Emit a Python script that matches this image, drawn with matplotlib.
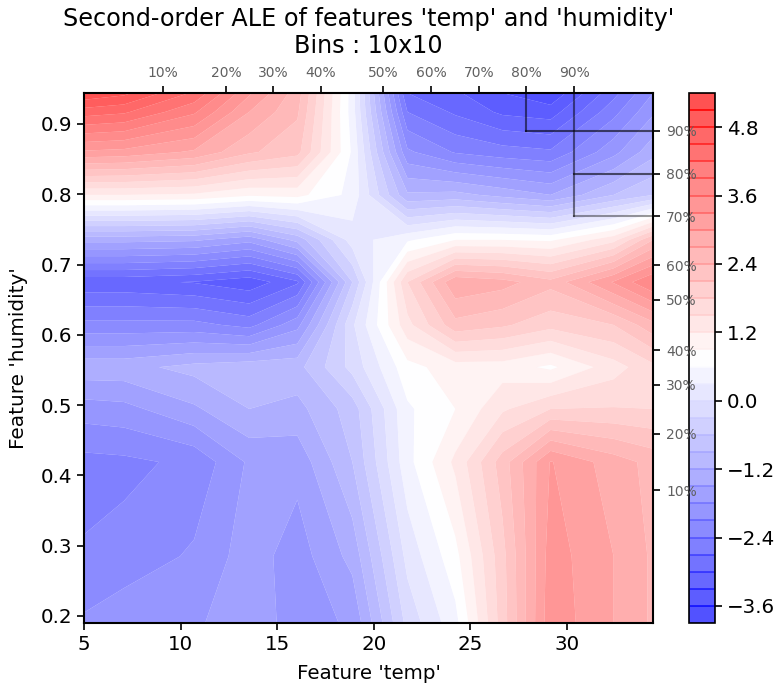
import matplotlib
matplotlib.use('Agg')
import matplotlib.pyplot as plt
import numpy as np

# bin centres of the ALE grid
temp_grid = [5.0, 7.07, 10.7, 13.55, 16.04, 18.89, 21.74, 24.22, 26.66, 29.15, 32.41, 34.45]
humidity_grid = [0.19, 0.285, 0.419, 0.4945, 0.554, 0.614, 0.675, 0.735, 0.799, 0.86, 0.917, 0.944]

# deciles of each feature
temp_deciles = [9.09, 12.35, 14.78, 17.27, 20.48, 22.97, 25.45, 27.88, 30.37]
humidity_deciles = [0.379, 0.459, 0.529, 0.578, 0.650, 0.699, 0.769, 0.829, 0.890]
decile_labels = ['10%', '20%', '30%', '40%', '50%', '60%', '70%', '80%', '90%']

# ALE values, rows go from low to high humidity
ale = [
    [-2.05, -1.88, -1.85, -1.6, -1.95, -1.75, -0.2, 0.5, 1.95, 3.5, 3.0, 2.65],
    [-2.37, -2.3, -2.05, -1.65, -1.95, -1.4, 0.1, 0.8, 2.0, 3.45, 3.0, 2.65],
    [-2.5, -2.47, -2.33, -1.75, -1.7, -0.9, 0.5, 1.27, 2.25, 3.32, 2.85, 2.6],
    [-1.95, -1.9, -1.55, -1.2, -1.3, -0.75, 0.55, 0.9, 1.45, 1.8, 1.82, 1.8],
    [-1.3, -1.3, -1.1, -1.0, -1.0, -0.2, 0.8, 1.05, 1.05, 0.84, 1.37, 1.72],
    [-2.3, -2.3, -2.3, -2.5, -1.9, -0.05, 1.4, 2.3, 2.15, 1.9, 2.1, 2.6],
    [-3.22, -3.22, -3.32, -3.5, -3.05, -0.6, 1.8, 2.95, 2.82, 2.5, 3.33, 3.9],
    [-1.4, -1.4, -1.45, -1.7, -1.1, 0.15, 0.55, 0.9, 0.9, 0.85, 1.4, 2.4],
    [1.2, 1.2, 1.15, 0.95, 1.0, 0.5, -1.15, -1.1, -1.3, -1.5, -0.9, -0.6],
    [3.25, 3.2, 2.95, 2.45, 2.2, 0.55, -2.04, -2.43, -2.57, -2.65, -1.9, -1.3],
    [4.65, 4.55, 3.95, 3.0, 2.45, 0.45, -2.7, -3.05, -3.36, -3.45, -2.5, -1.85],
    [5.35, 5.18, 4.45, 3.35, 2.55, 0.45, -3.0, -3.25, -3.6, -3.85, -2.8, -2.1],
]

levels = np.arange(-3.9, 5.41, 0.3)
cbar_ticks = [-3.6, -2.4, -1.2, 0.0, 1.2, 2.4, 3.6, 4.8]

W, H = 782.0, 688.0
fig = plt.figure(figsize=(7.82, 6.88), dpi=100)
ax = fig.add_axes([84 / W, 1 - 623 / H, (653 - 84) / W, (623 - 93) / H])
cax = fig.add_axes([689 / W, 1 - 623 / H, 26 / W, (623 - 93) / H])

cf = ax.contourf(temp_grid, humidity_grid, ale, levels=levels, cmap='bwr',
                 vmin=-3.9, vmax=5.4, alpha=0.7, antialiased=True)
ax.set_xlim(temp_grid[0], temp_grid[-1])
ax.set_ylim(humidity_grid[0], humidity_grid[-1])
ax.set_xticks([5, 10, 15, 20, 25, 30])
ax.set_yticks([0.2, 0.3, 0.4, 0.5, 0.6, 0.7, 0.8, 0.9])
ax.tick_params(labelsize=14.3, width=1.2, length=5)
ax.set_xlabel("Feature 'temp'", fontsize=14.3, labelpad=7)
ax.set_ylabel("Feature 'humidity'", fontsize=14.4, labelpad=9)
ax.set_title("Second-order ALE of features 'temp' and 'humidity'\nBins : 10x10",
             fontsize=17.2, pad=29, linespacing=1.15)
for s in ax.spines.values():
    s.set_linewidth(1.5)

# decile ticks on the top and on the right
top = ax.twiny()
top.set_xlim(ax.get_xlim())
top.set_xticks(temp_deciles)
top.set_xticklabels(decile_labels)
top.tick_params(labelsize=10, labelcolor='#606060', width=1.2, length=5, pad=4.5)
right = ax.twinx()
right.set_ylim(ax.get_ylim())
right.set_yticks(humidity_deciles)
right.set_yticklabels(decile_labels)
right.tick_params(labelsize=10, labelcolor='#606060', width=1.2, length=5, pad=4.5)
for a in [top, right]:
    a.set_zorder(5)
    for s in a.spines.values():
        s.set_visible(False)

# lines joining the upper deciles
ymax = humidity_grid[-1]
xmax = temp_grid[-1]
ax.plot([temp_deciles[7], temp_deciles[7]], [humidity_deciles[8], ymax], color='k', alpha=0.55, lw=1.5)
ax.plot([temp_deciles[8], temp_deciles[8]], [humidity_deciles[6], ymax], color='k', alpha=0.5, lw=1.5)
ax.plot([temp_deciles[7], xmax], [humidity_deciles[8], humidity_deciles[8]], color='k', alpha=0.6, lw=1.5)
ax.plot([temp_deciles[8], xmax], [humidity_deciles[7], humidity_deciles[7]], color='k', alpha=0.6, lw=1.5)
ax.plot([temp_deciles[8], xmax], [humidity_deciles[6], humidity_deciles[6]], color='k', alpha=0.4, lw=1.5)

cbar = fig.colorbar(cf, cax=cax, ticks=cbar_ticks)
cbar.ax.tick_params(labelsize=14.3, width=1.2, length=5)
cbar.outline.set_linewidth(1.2)
cbar.solids.set_edgecolor('face')
cbar.solids.set_linewidth(0.12)

fig.savefig('out.png', dpi=100)
